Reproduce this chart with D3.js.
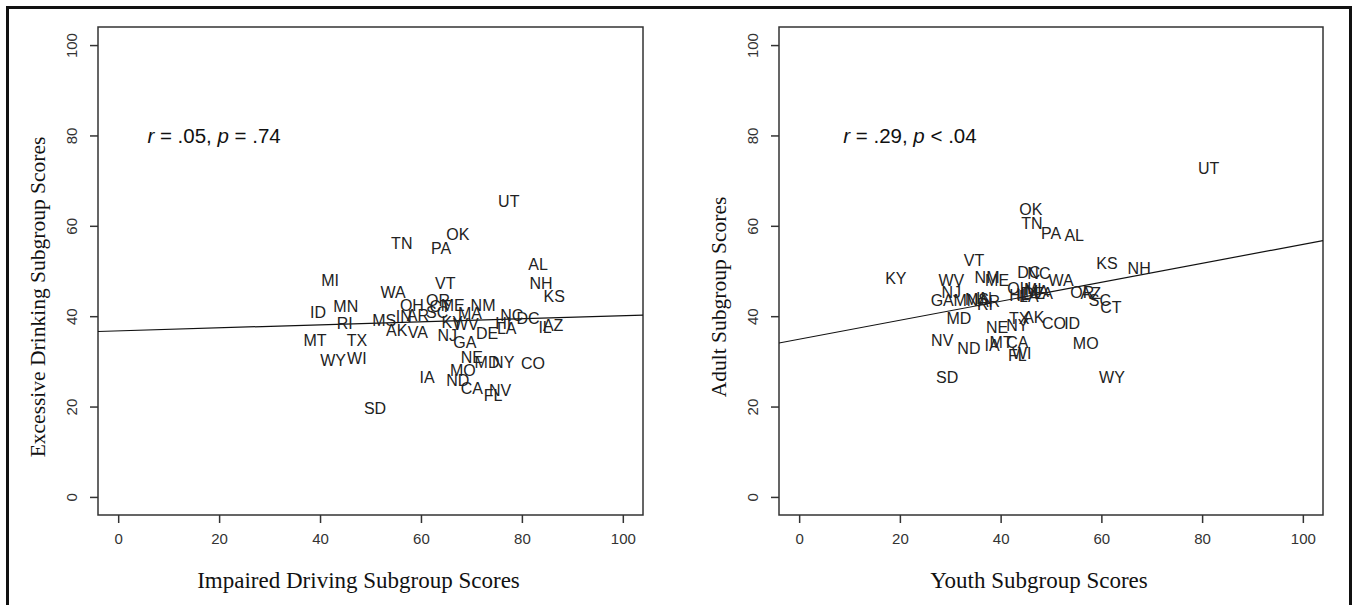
<!DOCTYPE html>
<html>
<head>
<meta charset="utf-8">
<script src="https://cdn.jsdelivr.net/npm/d3@7"></script>
<style>
  body { margin: 0; background: #fff; }
  svg { display: block; }
</style>
</head>
<body>
<svg id="chart"></svg>
<script>
// state abbreviations, shared by both panels
const states = ["AL","AK","AZ","AR","CA","CO","CT","DE","DC","FL","GA","HI","ID","IL","IN","IA","KS","KY","LA","ME","MD","MA","MI","MN","MS","MO","MT","NE","NV","NH","NJ","NM","NY","NC","ND","OH","OK","OR","PA","RI","SC","SD","TN","TX","UT","VT","VA","WA","WV","WI","WY"];

// left panel: impaired driving (x) vs excessive drinking (y)
const impaired  = [83.2,55.2,86.2,59.4,70.1,82.2,63.8,73.1,81.2,74.3,68.7,76.3,39.6,84.6,56.6,61.2,86.4,66.2,77.0,66.3,73.1,69.7,42.0,45.1,52.7,68.3,39.0,70.1,75.7,83.8,65.2,72.3,76.3,78.0,67.3,58.2,67.3,63.4,64.0,44.9,63.2,50.9,56.2,47.3,77.4,64.8,59.4,54.5,68.9,47.3,42.6];
const excessive = [51.5,36.9,38.1,40.3,24.1,29.6,42.3,36.3,39.6,22.6,34.3,38.5,40.9,37.6,40.0,26.5,44.5,38.7,37.4,42.5,29.9,40.7,48.0,42.3,39.2,28.1,34.7,31.0,23.7,47.3,35.8,42.5,29.9,40.3,25.9,42.5,58.2,43.6,55.1,38.5,40.9,19.7,56.2,34.7,65.5,47.3,36.5,45.4,38.3,30.8,30.3];

// right panel: youth (x) vs adult (y)
const youth = [54.6,46.6,57.9,37.7,43.3,50.6,61.9,46.6,45.6,43.3,28.4,43.3,54.2,44.4,36.7,38.3,61.1,19.2,45.6,39.3,31.7,47.2,46.4,33.1,35.3,56.9,40.1,39.3,28.4,67.5,30.2,37.3,43.3,47.6,33.7,43.7,46.0,56.2,50.0,36.9,59.7,29.4,46.2,43.7,81.3,34.7,48.4,52.0,30.2,44.2,62.1];
const adult = [58.0,39.8,45.1,43.4,34.3,38.5,42.0,45.1,49.8,31.4,43.6,44.7,38.5,44.9,44.0,33.6,51.8,48.5,44.5,48.0,39.6,45.6,46.0,43.6,43.8,34.1,34.3,37.6,34.7,50.7,45.4,48.7,38.1,49.6,33.0,46.2,63.7,45.4,58.4,42.7,43.6,26.5,60.6,39.6,72.8,52.4,45.1,48.0,48.0,31.9,26.5];

const ticks = [0, 20, 40, 60, 80, 100];

// fitted lines [intercept, slope] and annotation text
const panels = [
  { xs: impaired, ys: excessive, fit: [36.75, 0.0336], xTitle: "Impaired Driving Subgroup Scores",
    yTitle: "Excessive Drinking Subgroup Scores", stat: [["r", true], [" = .05, ", false], ["p", true], [" = .74", false]], statX: 19 },
  { xs: youth, ys: adult, fit: [34.9, 0.21], xTitle: "Youth Subgroup Scores",
    yTitle: "Adult Subgroup Scores", stat: [["r", true], [" = .29, ", false], ["p", true], [" < .04", false]], statX: 22 }
];

const width = 1353, height = 605;
const svg = d3.select("#chart").attr("width", width).attr("height", height);
svg.append("rect").attr("width", width).attr("height", height).attr("fill", "#fff");

// outer frame
svg.append("rect")
  .attr("x", 7.5).attr("y", 7.5)
  .attr("width", 1343).attr("height", 605)
  .attr("fill", "none").attr("stroke", "#111").attr("stroke-width", 3);

const boxes = [[98, 643], [779, 1323]];
const plotTop = 27, plotBottom = 515;
const sans = "Liberation Sans, Arial, sans-serif";
const serif = "Liberation Serif, Times New Roman, serif";

panels.forEach((p, i) => {
  const [x0, x1] = boxes[i];
  const x = d3.scaleLinear([-4, 104], [x0, x1]);
  const y = d3.scaleLinear([-4, 104], [plotBottom, plotTop]);
  const g = svg.append("g");

  const clipId = "clip" + i;
  g.append("clipPath").attr("id", clipId)
    .append("rect").attr("x", x0).attr("y", plotTop).attr("width", x1 - x0).attr("height", plotBottom - plotTop);

  // x axis
  const ax = g.append("g").attr("transform", `translate(0,${plotBottom})`)
    .call(d3.axisBottom(x).tickValues(ticks).tickSize(8).tickPadding(10));
  ax.select(".domain").remove();
  ax.selectAll("line").attr("stroke", "#333").attr("stroke-width", 1.5);
  ax.selectAll("text").attr("font-family", sans)
    .attr("font-size", 15).attr("fill", "#333");

  // y axis, labels rotated like R
  const ay = g.append("g").attr("transform", `translate(${x0},0)`)
    .call(d3.axisLeft(y).tickValues(ticks).tickSize(8));
  ay.select(".domain").remove();
  ay.selectAll("line").attr("stroke", "#333").attr("stroke-width", 1.5);
  ay.selectAll("text")
    .attr("transform", "rotate(-90)")
    .attr("x", 0).attr("y", -21).attr("dy", null)
    .attr("text-anchor", "middle")
    .attr("font-family", sans)
    .attr("font-size", 15).attr("fill", "#333");

  // plot box
  g.append("rect")
    .attr("x", x0).attr("y", plotTop).attr("width", x1 - x0).attr("height", plotBottom - plotTop)
    .attr("fill", "none").attr("stroke", "#333").attr("stroke-width", 1.5);

  // regression line
  const [a, b] = p.fit;
  g.append("line")
    .attr("clip-path", `url(#${clipId})`)
    .attr("x1", x(-4)).attr("y1", y(a + b * -4))
    .attr("x2", x(104)).attr("y2", y(a + b * 104))
    .attr("stroke", "#111").attr("stroke-width", 1.2);

  // state labels
  g.append("g").selectAll("text")
    .data(states)
    .join("text")
    .attr("x", (d, j) => x(p.xs[j]))
    .attr("y", (d, j) => y(p.ys[j]))
    .attr("dy", "0.36em")
    .attr("text-anchor", "middle")
    .attr("font-family", sans)
    .attr("font-size", 16)
    .attr("fill", "#222")
    .text(d => d);

  // r / p annotation
  const st = g.append("text")
    .attr("x", x(p.statX)).attr("y", y(80)).attr("dy", "0.36em")
    .attr("text-anchor", "middle")
    .attr("font-family", sans)
    .attr("font-size", 20.5).attr("fill", "#111");
  p.stat.forEach(([t, it]) => st.append("tspan").attr("font-style", it ? "italic" : "normal").text(t));

  // axis titles
  g.append("text")
    .attr("x", (x0 + x1) / 2 - 12).attr("y", 588)
    .attr("text-anchor", "middle")
    .attr("font-family", serif)
    .attr("font-size", 23).attr("fill", "#111")
    .text(p.xTitle);

  g.append("text")
    .attr("transform", `translate(${x0 - 53},297) rotate(-90)`)
    .attr("text-anchor", "middle")
    .attr("font-family", serif)
    .attr("font-size", 21.5).attr("fill", "#111")
    .text(p.yTitle);
});
</script>
</body>
</html>
